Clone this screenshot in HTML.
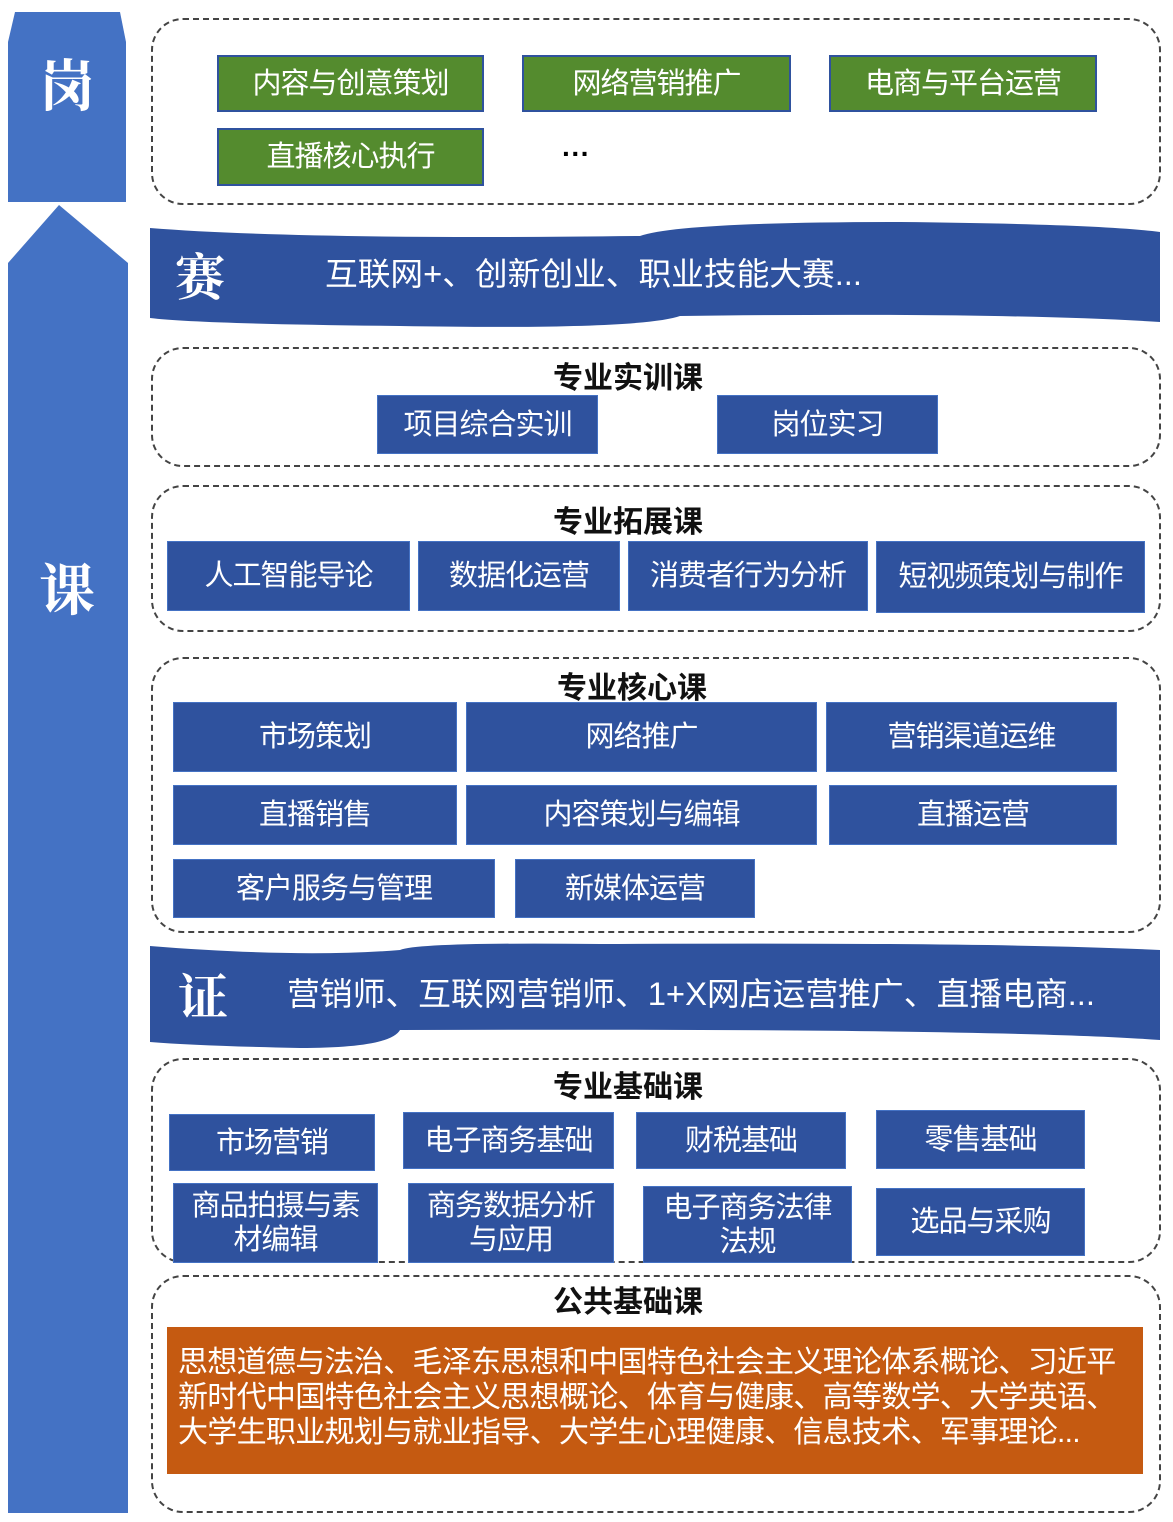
<!DOCTYPE html>
<html><head><meta charset="utf-8"><style>
body{margin:0;width:1173px;height:1522px;background:#fff;position:relative;overflow:hidden;font-family:"Liberation Sans","Noto Sans CJK SC",sans-serif}
.d{position:absolute;border:2px dashed #444;border-radius:32px;box-sizing:border-box}
.b{position:absolute;background:#2F529E;color:#fff;display:flex;align-items:center;justify-content:center;text-align:center;font-size:29px;line-height:34px;box-sizing:border-box;border:1px solid #4472C4;letter-spacing:-1px}
.g{background:#548B2E;border:2px solid #2F529E}
.t{position:absolute;font-size:30px;font-weight:bold;color:#111;text-align:center;width:400px}
</style></head><body>
<svg width="1173" height="1522" style="position:absolute;left:0;top:0">
<path d="M15,12 L120,12 L126,42 L126,202 L8,202 L8,42 Z" fill="#4472C4"/>
<path d="M59,205 L128,263 L128,1513 L8,1513 L8,263 Z" fill="#4472C4"/>
<path d="M150,228 Q300,240 640,236 Q680,222 900,222 Q1100,224 1160,232 L1160,322 Q1000,312 680,316 Q640,330 400,326 Q200,324 150,318 Z" fill="#2F529E"/>
<path d="M150,946 Q300,958 400,950 Q420,942 600,944 Q1000,942 1160,950 L1160,1040 Q1000,1028 400,1030 Q390,1048 300,1048 Q200,1046 150,1042 Z" fill="#2F529E"/>
<text x="67" y="106" fill="#fff" font-size="56" font-weight="bold" text-anchor="middle" font-family="Noto Serif CJK SC,serif">岗</text>
<text x="67" y="610" fill="#fff" font-size="56" font-weight="bold" text-anchor="middle" font-family="Noto Serif CJK SC,serif">课</text>
<text x="200" y="295" fill="#fff" font-size="50" font-weight="bold" text-anchor="middle" font-family="Noto Serif CJK SC,serif">赛</text>
<text x="325" y="285" fill="#fff" font-size="32" textLength="537" lengthAdjust="spacingAndGlyphs" font-family="Liberation Sans,Noto Sans CJK SC,sans-serif">互联网+、创新创业、职业技能大赛...</text>
<text x="203" y="1015" fill="#fff" font-size="50" font-weight="bold" text-anchor="middle" font-family="Noto Serif CJK SC,serif">证</text>
<text x="287" y="1005" fill="#fff" font-size="32" textLength="808" lengthAdjust="spacingAndGlyphs" font-family="Liberation Sans,Noto Sans CJK SC,sans-serif">营销师、互联网营销师、1+X网店运营推广、直播电商...</text>
</svg>
<div class="d" style="left:151px;top:18px;width:1010px;height:187px"></div>
<div class="b g" style="left:217px;top:55px;width:267px;height:57px">内容与创意策划</div>
<div class="b g" style="left:522px;top:55px;width:269px;height:57px">网络营销推广</div>
<div class="b g" style="left:829px;top:55px;width:268px;height:57px">电商与平台运营</div>
<div class="b g" style="left:217px;top:128px;width:267px;height:58px">直播核心执行</div>
<div style="position:absolute;left:562px;top:138px;font-size:28px;font-weight:bold">···</div>

<div class="d" style="left:151px;top:347px;width:1010px;height:120px"></div>
<div class="t" style="left:428px;top:353px">专业实训课</div>
<div class="b" style="left:377px;top:395px;width:221px;height:59px">项目综合实训</div>
<div class="b" style="left:717px;top:395px;width:221px;height:59px">岗位实习</div>

<div class="d" style="left:151px;top:485px;width:1010px;height:147px"></div>
<div class="t" style="left:428px;top:497px">专业拓展课</div>
<div class="b" style="left:167px;top:541px;width:243px;height:70px">人工智能导论</div>
<div class="b" style="left:418px;top:541px;width:202px;height:70px">数据化运营</div>
<div class="b" style="left:628px;top:541px;width:240px;height:70px">消费者行为分析</div>
<div class="b" style="left:876px;top:541px;width:269px;height:72px">短视频策划与制作</div>

<div class="d" style="left:151px;top:657px;width:1010px;height:276px"></div>
<div class="t" style="left:432px;top:663px">专业核心课</div>
<div class="b" style="left:173px;top:702px;width:284px;height:70px">市场策划</div>
<div class="b" style="left:466px;top:702px;width:351px;height:70px">网络推广</div>
<div class="b" style="left:826px;top:702px;width:291px;height:70px">营销渠道运维</div>
<div class="b" style="left:173px;top:785px;width:284px;height:60px">直播销售</div>
<div class="b" style="left:466px;top:785px;width:351px;height:60px">内容策划与编辑</div>
<div class="b" style="left:829px;top:785px;width:288px;height:60px">直播运营</div>
<div class="b" style="left:173px;top:859px;width:322px;height:59px">客户服务与管理</div>
<div class="b" style="left:515px;top:859px;width:240px;height:59px">新媒体运营</div>

<div class="d" style="left:151px;top:1058px;width:1010px;height:205px"></div>
<div class="t" style="left:428px;top:1062px">专业基础课</div>
<div class="b" style="left:169px;top:1114px;width:206px;height:57px">市场营销</div>
<div class="b" style="left:403px;top:1112px;width:211px;height:57px">电子商务基础</div>
<div class="b" style="left:636px;top:1112px;width:210px;height:57px">财税基础</div>
<div class="b" style="left:876px;top:1110px;width:209px;height:59px">零售基础</div>
<div class="b" style="left:173px;top:1183px;width:205px;height:80px">商品拍摄与素<br>材编辑</div>
<div class="b" style="left:408px;top:1183px;width:206px;height:80px">商务数据分析<br>与应用</div>
<div class="b" style="left:643px;top:1186px;width:209px;height:77px">电子商务法律<br>法规</div>
<div class="b" style="left:876px;top:1188px;width:209px;height:68px">选品与采购</div>

<div class="d" style="left:151px;top:1275px;width:1010px;height:238px"></div>
<div class="t" style="left:428px;top:1277px">公共基础课</div>
<div style="position:absolute;left:167px;top:1327px;width:976px;height:147px;background:#C55A11;color:#fff;font-size:30px;line-height:35px;padding:18px 0 0 11px;box-sizing:border-box;letter-spacing:-0.7px;white-space:nowrap">思想道德与法治、毛泽东思想和中国特色社会主义理论体系概论、习近平<br>新时代中国特色社会主义思想概论、体育与健康、高等数学、大学英语、<br>大学生职业规划与就业指导、大学生心理健康、信息技术、军事理论...</div>
</body></html>
